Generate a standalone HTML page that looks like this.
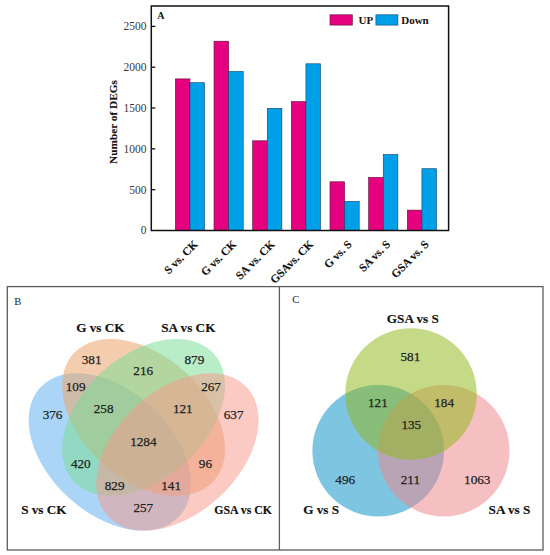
<!DOCTYPE html><html><head><meta charset="utf-8"><style>html,body{margin:0;padding:0;background:#fff;}svg{display:block;}</style></head><body>
<svg width="550" height="555" viewBox="0 0 550 555">
<rect x="0" y="0" width="550" height="555" fill="#fff"/>
<rect x="175.35" y="78.90" width="14.60" height="151.60" fill="#E5007F" stroke="#5a1030" stroke-width="0.6"/>
<rect x="189.95" y="82.70" width="14.60" height="147.80" fill="#00A0E9" stroke="#10406a" stroke-width="0.6"/>
<rect x="214.01" y="41.20" width="14.60" height="189.30" fill="#E5007F" stroke="#5a1030" stroke-width="0.6"/>
<rect x="228.61" y="71.50" width="14.60" height="159.00" fill="#00A0E9" stroke="#10406a" stroke-width="0.6"/>
<rect x="252.67" y="140.80" width="14.60" height="89.70" fill="#E5007F" stroke="#5a1030" stroke-width="0.6"/>
<rect x="267.27" y="108.30" width="14.60" height="122.20" fill="#00A0E9" stroke="#10406a" stroke-width="0.6"/>
<rect x="291.33" y="101.60" width="14.60" height="128.90" fill="#E5007F" stroke="#5a1030" stroke-width="0.6"/>
<rect x="305.93" y="63.80" width="14.60" height="166.70" fill="#00A0E9" stroke="#10406a" stroke-width="0.6"/>
<rect x="329.99" y="181.80" width="14.60" height="48.70" fill="#E5007F" stroke="#5a1030" stroke-width="0.6"/>
<rect x="344.59" y="201.40" width="14.60" height="29.10" fill="#00A0E9" stroke="#10406a" stroke-width="0.6"/>
<rect x="368.65" y="177.40" width="14.60" height="53.10" fill="#E5007F" stroke="#5a1030" stroke-width="0.6"/>
<rect x="383.25" y="154.50" width="14.60" height="76.00" fill="#00A0E9" stroke="#10406a" stroke-width="0.6"/>
<rect x="407.31" y="210.10" width="14.60" height="20.40" fill="#E5007F" stroke="#5a1030" stroke-width="0.6"/>
<rect x="421.91" y="168.70" width="14.60" height="61.80" fill="#00A0E9" stroke="#10406a" stroke-width="0.6"/>
<rect x="151.3" y="6.0" width="297.30" height="224.50" fill="none" stroke="#111" stroke-width="1.5"/>
<text x="146.6" y="234.40" text-anchor="end" font-size="11.5" fill="#383838" font-family="Liberation Serif, serif">0</text>
<line x1="151.3" y1="189.68" x2="155.30" y2="189.68" stroke="#111" stroke-width="1.3"/>
<text x="146.6" y="193.58" text-anchor="end" font-size="11.5" fill="#383838" font-family="Liberation Serif, serif">500</text>
<line x1="151.3" y1="148.86" x2="155.30" y2="148.86" stroke="#111" stroke-width="1.3"/>
<text x="146.6" y="152.76" text-anchor="end" font-size="11.5" fill="#383838" font-family="Liberation Serif, serif">1000</text>
<line x1="151.3" y1="108.04" x2="155.30" y2="108.04" stroke="#111" stroke-width="1.3"/>
<text x="146.6" y="111.94" text-anchor="end" font-size="11.5" fill="#383838" font-family="Liberation Serif, serif">1500</text>
<line x1="151.3" y1="67.22" x2="155.30" y2="67.22" stroke="#111" stroke-width="1.3"/>
<text x="146.6" y="71.12" text-anchor="end" font-size="11.5" fill="#383838" font-family="Liberation Serif, serif">2000</text>
<line x1="151.3" y1="26.40" x2="155.30" y2="26.40" stroke="#111" stroke-width="1.3"/>
<text x="146.6" y="30.30" text-anchor="end" font-size="11.5" fill="#383838" font-family="Liberation Serif, serif">2500</text>
<text transform="translate(116.7 122) rotate(-90)" text-anchor="middle" font-size="11.3" font-weight="bold" fill="#111" stroke="#111" stroke-width="0.12" font-family="Liberation Serif, serif">Number of DEGs</text>
<text x="157.2" y="19.4" font-size="10" font-weight="bold" fill="#111" font-family="Liberation Serif, serif">A</text>
<rect x="330" y="14.8" width="22.3" height="10.3" fill="#E5007F" stroke="#5a1030" stroke-width="0.6"/>
<text x="358.6" y="24.2" font-size="11" font-weight="bold" fill="#111" font-family="Liberation Serif, serif">UP</text>
<rect x="375.9" y="14.8" width="22" height="10.3" fill="#00A0E9" stroke="#10406a" stroke-width="0.6"/>
<text x="401.2" y="24.2" font-size="11" font-weight="bold" fill="#111" font-family="Liberation Serif, serif">Down</text>
<text transform="translate(198.50 245.00) rotate(-45)" text-anchor="end" font-size="11.4" font-weight="bold" fill="#111" stroke="#111" stroke-width="0.15" font-family="Liberation Serif, serif">S vs. CK</text>
<text transform="translate(237.00 245.00) rotate(-45)" text-anchor="end" font-size="11.4" font-weight="bold" fill="#111" stroke="#111" stroke-width="0.15" font-family="Liberation Serif, serif">G vs. CK</text>
<text transform="translate(275.50 245.00) rotate(-45)" text-anchor="end" font-size="11.4" font-weight="bold" fill="#111" stroke="#111" stroke-width="0.15" font-family="Liberation Serif, serif">SA vs. CK</text>
<text transform="translate(314.00 245.00) rotate(-45)" text-anchor="end" font-size="11.4" font-weight="bold" fill="#111" stroke="#111" stroke-width="0.15" font-family="Liberation Serif, serif">GSAvs. CK</text>
<text transform="translate(352.50 245.00) rotate(-45)" text-anchor="end" font-size="11.4" font-weight="bold" fill="#111" stroke="#111" stroke-width="0.15" font-family="Liberation Serif, serif">G vs. S</text>
<text transform="translate(391.00 245.00) rotate(-45)" text-anchor="end" font-size="11.4" font-weight="bold" fill="#111" stroke="#111" stroke-width="0.15" font-family="Liberation Serif, serif">SA vs. S</text>
<text transform="translate(429.50 245.00) rotate(-45)" text-anchor="end" font-size="11.4" font-weight="bold" fill="#111" stroke="#111" stroke-width="0.15" font-family="Liberation Serif, serif">GSA vs. S</text>
<rect x="7.3" y="286.6" width="535.7" height="263.4" fill="none" stroke="#5c5c5c" stroke-width="1.3"/>
<line x1="279.4" y1="286.6" x2="279.4" y2="550" stroke="#5c5c5c" stroke-width="1.3"/>
<text x="14.2" y="304.6" font-size="10.5" fill="#222" font-family="Liberation Serif, serif">B</text>
<text x="292.2" y="303.3" font-size="10.5" fill="#222" font-family="Liberation Serif, serif">C</text>
<ellipse cx="0" cy="0" rx="94.8" ry="61.6" transform="translate(109.8 451.9) rotate(42.8)" fill="rgb(83,169,239)" fill-opacity="0.485"/>
<ellipse cx="0" cy="0" rx="94.8" ry="61.6" transform="translate(143.6 417.4) rotate(42.3)" fill="rgb(233,166,109)" fill-opacity="0.564"/>
<ellipse cx="0" cy="0" rx="94.8" ry="61.6" transform="translate(143.6 417.4) rotate(-42.3)" fill="rgb(120,220,148)" fill-opacity="0.522"/>
<ellipse cx="0" cy="0" rx="94.8" ry="61.6" transform="translate(177.4 451.9) rotate(-42.8)" fill="rgb(247,153,140)" fill-opacity="0.519"/>
<text x="91.67" y="363.50" text-anchor="middle" font-size="13.2" fill="#222" font-family="Liberation Serif, serif" stroke="#222" stroke-width="0.25">381</text>
<text x="194.35" y="363.50" text-anchor="middle" font-size="13.2" fill="#222" font-family="Liberation Serif, serif" stroke="#222" stroke-width="0.25">879</text>
<text x="143.23" y="374.60" text-anchor="middle" font-size="13.2" fill="#222" font-family="Liberation Serif, serif" stroke="#222" stroke-width="0.25">216</text>
<text x="75.67" y="390.80" text-anchor="middle" font-size="13.2" fill="#222" font-family="Liberation Serif, serif" stroke="#222" stroke-width="0.25">109</text>
<text x="211.03" y="391.20" text-anchor="middle" font-size="13.2" fill="#222" font-family="Liberation Serif, serif" stroke="#222" stroke-width="0.25">267</text>
<text x="52.57" y="418.50" text-anchor="middle" font-size="13.2" fill="#222" font-family="Liberation Serif, serif" stroke="#222" stroke-width="0.25">376</text>
<text x="103.65" y="412.60" text-anchor="middle" font-size="13.2" fill="#222" font-family="Liberation Serif, serif" stroke="#222" stroke-width="0.25">258</text>
<text x="182.80" y="412.60" text-anchor="middle" font-size="13.2" fill="#222" font-family="Liberation Serif, serif" stroke="#222" stroke-width="0.25">121</text>
<text x="233.58" y="418.70" text-anchor="middle" font-size="13.2" fill="#222" font-family="Liberation Serif, serif" stroke="#222" stroke-width="0.25">637</text>
<text x="143.34" y="445.50" text-anchor="middle" font-size="13.2" fill="#222" font-family="Liberation Serif, serif" stroke="#222" stroke-width="0.25">1284</text>
<text x="80.78" y="467.60" text-anchor="middle" font-size="13.2" fill="#222" font-family="Liberation Serif, serif" stroke="#222" stroke-width="0.25">420</text>
<text x="205.45" y="467.60" text-anchor="middle" font-size="13.2" fill="#222" font-family="Liberation Serif, serif" stroke="#222" stroke-width="0.25">96</text>
<text x="114.65" y="489.70" text-anchor="middle" font-size="13.2" fill="#222" font-family="Liberation Serif, serif" stroke="#222" stroke-width="0.25">829</text>
<text x="171.15" y="489.70" text-anchor="middle" font-size="13.2" fill="#222" font-family="Liberation Serif, serif" stroke="#222" stroke-width="0.25">141</text>
<text x="143.28" y="511.80" text-anchor="middle" font-size="13.2" fill="#222" font-family="Liberation Serif, serif" stroke="#222" stroke-width="0.25">257</text>
<text x="100.37" y="332.40" text-anchor="middle" font-size="13.2" font-weight="bold" fill="#111" font-family="Liberation Serif, serif" stroke="#111" stroke-width="0.15">G vs CK</text>
<text x="188.30" y="331.90" text-anchor="middle" font-size="13.2" font-weight="bold" fill="#111" font-family="Liberation Serif, serif" stroke="#111" stroke-width="0.15">SA vs CK</text>
<text x="43.86" y="514.10" text-anchor="middle" font-size="13.2" font-weight="bold" fill="#111" font-family="Liberation Serif, serif" stroke="#111" stroke-width="0.15">S vs CK</text>
<text x="243.06" y="514.40" text-anchor="middle" font-size="11.8" font-weight="bold" fill="#111" font-family="Liberation Serif, serif" stroke="#111" stroke-width="0.15">GSA vs CK</text>
<circle cx="378.2" cy="450.7" r="65.8" fill="rgb(53,165,209)" fill-opacity="0.641"/>
<circle cx="443.7" cy="450.7" r="65.8" fill="rgb(237,134,138)" fill-opacity="0.522"/>
<circle cx="411" cy="394" r="65.8" fill="rgb(145,184,27)" fill-opacity="0.524"/>
<text x="410.40" y="361.30" text-anchor="middle" font-size="13.2" fill="#222" font-family="Liberation Serif, serif" stroke="#222" stroke-width="0.25">581</text>
<text x="377.90" y="407.40" text-anchor="middle" font-size="13.2" fill="#222" font-family="Liberation Serif, serif" stroke="#222" stroke-width="0.25">121</text>
<text x="444.14" y="407.40" text-anchor="middle" font-size="13.2" fill="#222" font-family="Liberation Serif, serif" stroke="#222" stroke-width="0.25">184</text>
<text x="411.32" y="429.20" text-anchor="middle" font-size="13.2" fill="#222" font-family="Liberation Serif, serif" stroke="#222" stroke-width="0.25">135</text>
<text x="345.22" y="483.90" text-anchor="middle" font-size="13.2" fill="#222" font-family="Liberation Serif, serif" stroke="#222" stroke-width="0.25">496</text>
<text x="410.35" y="483.90" text-anchor="middle" font-size="13.2" fill="#222" font-family="Liberation Serif, serif" stroke="#222" stroke-width="0.25">211</text>
<text x="477.27" y="483.90" text-anchor="middle" font-size="13.2" fill="#222" font-family="Liberation Serif, serif" stroke="#222" stroke-width="0.25">1063</text>
<text x="412.88" y="323.10" text-anchor="middle" font-size="13.2" font-weight="bold" fill="#111" font-family="Liberation Serif, serif" stroke="#111" stroke-width="0.15">GSA vs S</text>
<text x="321.10" y="513.90" text-anchor="middle" font-size="13.2" font-weight="bold" fill="#111" font-family="Liberation Serif, serif" stroke="#111" stroke-width="0.15">G vs S</text>
<text x="509.49" y="513.90" text-anchor="middle" font-size="13.2" font-weight="bold" fill="#111" font-family="Liberation Serif, serif" stroke="#111" stroke-width="0.15">SA vs S</text>
</svg></body></html>
